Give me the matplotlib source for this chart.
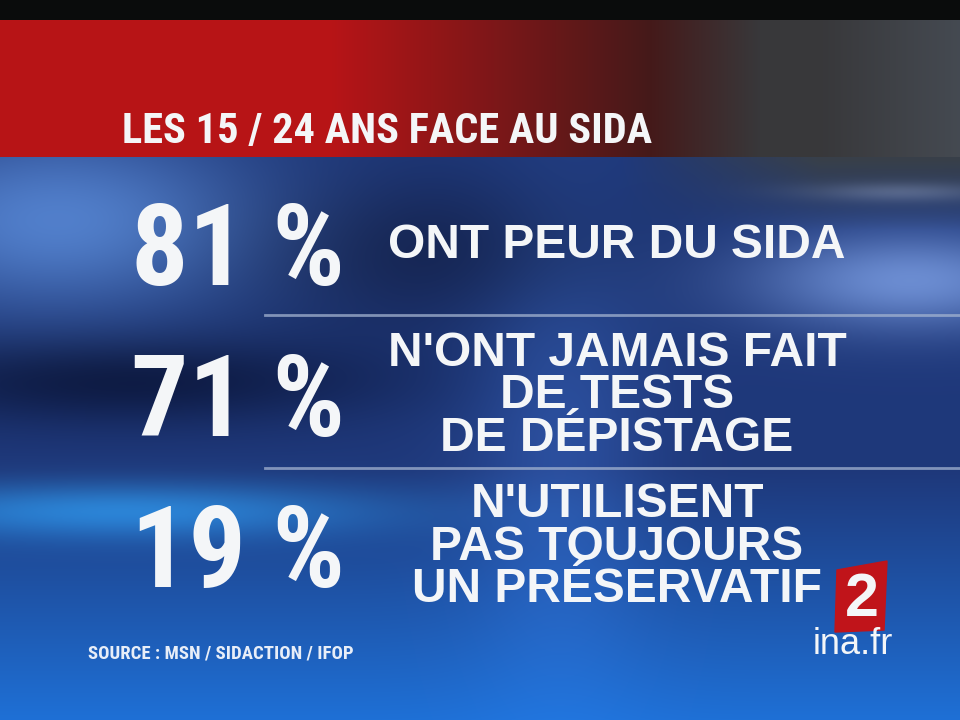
"""TV infographic: les 15/24 ans face au sida (France 2 style card)."""
import matplotlib
matplotlib.use("Agg")
import matplotlib.pyplot as plt
import numpy as np
from matplotlib import font_manager
from matplotlib.font_manager import FontProperties
from matplotlib.patches import Polygon

TITLE = "LES 15 / 24 ANS FACE AU SIDA"
PERCENTS = [81, 71, 19]
LABELS = [
    "ONT PEUR DU SIDA",
    "N'ONT JAMAIS FAIT\nDE TESTS\nDE DÉPISTAGE",
    "N'UTILISENT\nPAS TOUJOURS\nUN PRÉSERVATIF",
]
SOURCE = "SOURCE : MSN / SIDACTION / IFOP"

W, H = 960, 720
ROW_Y = [245, 396, 547]
SEP_Y = [315, 468]


def narrow_font():
    # look for the narrowest bold face that is installed
    files = [f.fname for f in font_manager.fontManager.ttflist]
    wanted = ["LiberationSansNarrow-Bold", "RobotoCondensed-Bold",
              "NotoSans-ExtraCondensedBold", "NotoSans-CondensedBold",
              "OpenSans_Condensed-Bold", "OpenSans-CondBold",
              "DejaVuSansCondensed-Bold"]
    for w in wanted:
        for f in files:
            if f.split("/")[-1].startswith(w):
                return FontProperties(fname=f)
    return FontProperties(family="DejaVu Sans", stretch="condensed",
                          weight="bold")


NARROW = narrow_font()
PLAIN = "Liberation Sans"


def blob(xx, yy, cx, cy, sx, sy):
    return np.exp(-(((xx - cx) / sx) ** 2 + ((yy - cy) / sy) ** 2))[..., None]


def background():
    yy, xx = np.mgrid[0:H, 0:W].astype(float)
    img = np.zeros((H, W, 3))
    img[:] = np.array([0.12, 0.22, 0.48])
    bottom = np.clip((yy - 470) / 250, 0, 1)[..., None]
    img = img * (1 - bottom) + np.array([0.12, 0.44, 0.84]) * bottom
    # light patches and streaks
    img += blob(xx, yy, 60, 220, 200, 90) * np.array([0.20, 0.28, 0.32])
    img += blob(xx, yy, 120, 510, 260, 28) * np.array([0.05, 0.26, 0.30])
    img += blob(xx, yy, 910, 280, 160, 50) * np.array([0.30, 0.33, 0.34])
    img += blob(xx, yy, 900, 190, 90, 10) * np.array([0.35, 0.35, 0.35])
    img += blob(xx, yy, 560, 430, 90, 240) * np.array([0.05, 0.09, 0.14])
    img -= blob(xx, yy, 120, 380, 260, 45) * np.array([0.07, 0.12, 0.22])
    img -= blob(xx, yy, 430, 250, 200, 80) * np.array([0.04, 0.08, 0.16])
    # greyish strip under the red band on the right
    gr = np.clip((xx - 620) / 200, 0, 1) * np.clip((230 - yy) / 70, 0, 1)
    img = img * (1 - gr[..., None]) + np.array([0.22, 0.25, 0.29]) * gr[..., None]
    # red band, fading to dark grey on the right
    x = xx[0]
    t = np.clip((x - 330) / 320, 0, 1)[:, None]
    band = np.array([0.72, 0.08, 0.09]) * (1 - t) + np.array([0.27, 0.10, 0.10]) * t
    g = np.clip((x - 650) / 110, 0, 1)[:, None]
    band = band * (1 - g) + np.array([0.22, 0.22, 0.23]) * g
    band += np.clip((x - 820) / 140, 0, 1)[:, None] * np.array([0.05, 0.07, 0.09])
    img[20:157] = band[None, :, :]
    img[:20] = np.array([0.04, 0.05, 0.05])
    return np.clip(img, 0, 1)


fig = plt.figure(figsize=(9.6, 7.2), dpi=100)
ax = fig.add_axes([0, 0, 1, 1])
ax.imshow(background(), extent=(0, W, H, 0), interpolation="bilinear")
ax.set_xlim(0, W)
ax.set_ylim(H, 0)
ax.axis("off")

white = "#f4f6f8"
ax.text(122, 131, TITLE, fontproperties=NARROW, fontsize=30.5, color=white,
        ha="left", va="center")

for y in SEP_Y:
    ax.plot([265, W], [y, y], color="#a3b3d0", linewidth=2, alpha=0.75)

for y, pct, lab in zip(ROW_Y, PERCENTS, LABELS):
    ax.text(238, y + 9, f"{pct} %", fontproperties=NARROW, fontsize=82,
            color=white, ha="center", va="center")
    ax.text(617, y, lab, family=PLAIN, weight="bold", fontsize=34.5,
            color=white, ha="center", va="center", linespacing=0.92)

ax.text(88, 654, SOURCE, fontproperties=NARROW, fontsize=13.5,
        color="#e8eef8", ha="left", va="center")

# channel logo
ax.add_patch(Polygon([(837, 570), (887, 561), (884, 630), (835, 632)],
                     closed=True, color="#c0141a", zorder=3))
ax.text(862, 600, "2", family=PLAIN, weight="bold", fontsize=44,
        color=white, ha="center", va="center", zorder=4)
ax.text(853, 645, "ina.fr", family=PLAIN, fontsize=26, color=white,
        ha="center", va="center", zorder=4)

fig.savefig("out.png", dpi=100)
